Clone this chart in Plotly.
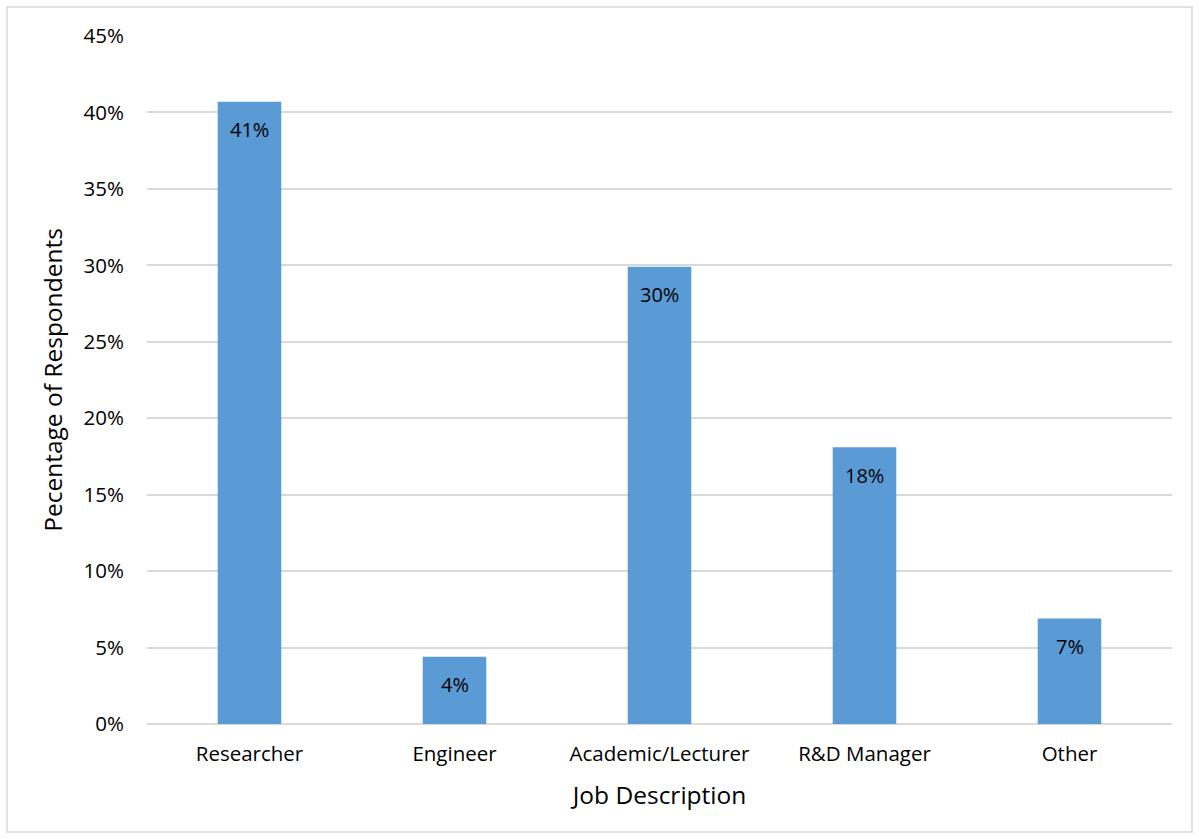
import plotly.graph_objects as go

categories = ["Researcher", "Engineer", "Academic/Lecturer", "R&D Manager", "Other"]
values = [0.407, 0.044, 0.299, 0.181, 0.069]
y_ticks = [0, 0.05, 0.10, 0.15, 0.20, 0.25, 0.30, 0.35, 0.40, 0.45]

FONT = "Open Sans, Liberation Sans, sans-serif"
W, H = 1199, 839
L, R, T, B = 147, 27, 36, 115

fig = go.Figure()
fig.add_trace(go.Bar(
    x=categories, y=values,
    marker=dict(color="#5b9bd5", line=dict(width=0)),
    hoverinfo="x+y",
))

for c, v in zip(categories, values):
    fig.add_annotation(
        x=c, y=v, text=f"{round(v*100)}%", showarrow=False,
        yshift=-28, font=dict(family=FONT, size=20, color="#000000"),
    )

pw = W - L - R
ph = H - T - B
fig.add_shape(
    type="rect", xref="paper", yref="paper",
    x0=(7 - L) / pw, x1=(1192 - L) / pw,
    y0=((H - B) - 832) / ph, y1=((H - B) - 7) / ph,
    line=dict(color="#d9d9d9", width=1.5), fillcolor="rgba(0,0,0,0)", layer="below",
)

fig.update_layout(
    width=W, height=H,
    margin=dict(l=L, r=R, t=T, b=B),
    paper_bgcolor="white", plot_bgcolor="white",
    bargap=0.69,
    showlegend=False,
    font=dict(family=FONT, size=20, color="#000000"),
    xaxis=dict(
        title=dict(text="Job Description", font=dict(size=24.5), standoff=21),
        tickfont=dict(size=20.5), showgrid=False, showline=False,
        ticks="", ticklabelstandoff=15,
    ),
    yaxis=dict(
        title=dict(text="Pecentage of Respondents", font=dict(size=24.5), standoff=14),
        range=[0, 0.45], tickvals=y_ticks, tickformat=".0%",
        tickfont=dict(size=20.5),
        showgrid=True, gridcolor="#d9d9d9", gridwidth=1.5,
        zeroline=True, zerolinecolor="#d9d9d9", zerolinewidth=1.5,
        showline=False, ticks="", ticklabelstandoff=22,
    ),
)

fig.write_html("out.html")
